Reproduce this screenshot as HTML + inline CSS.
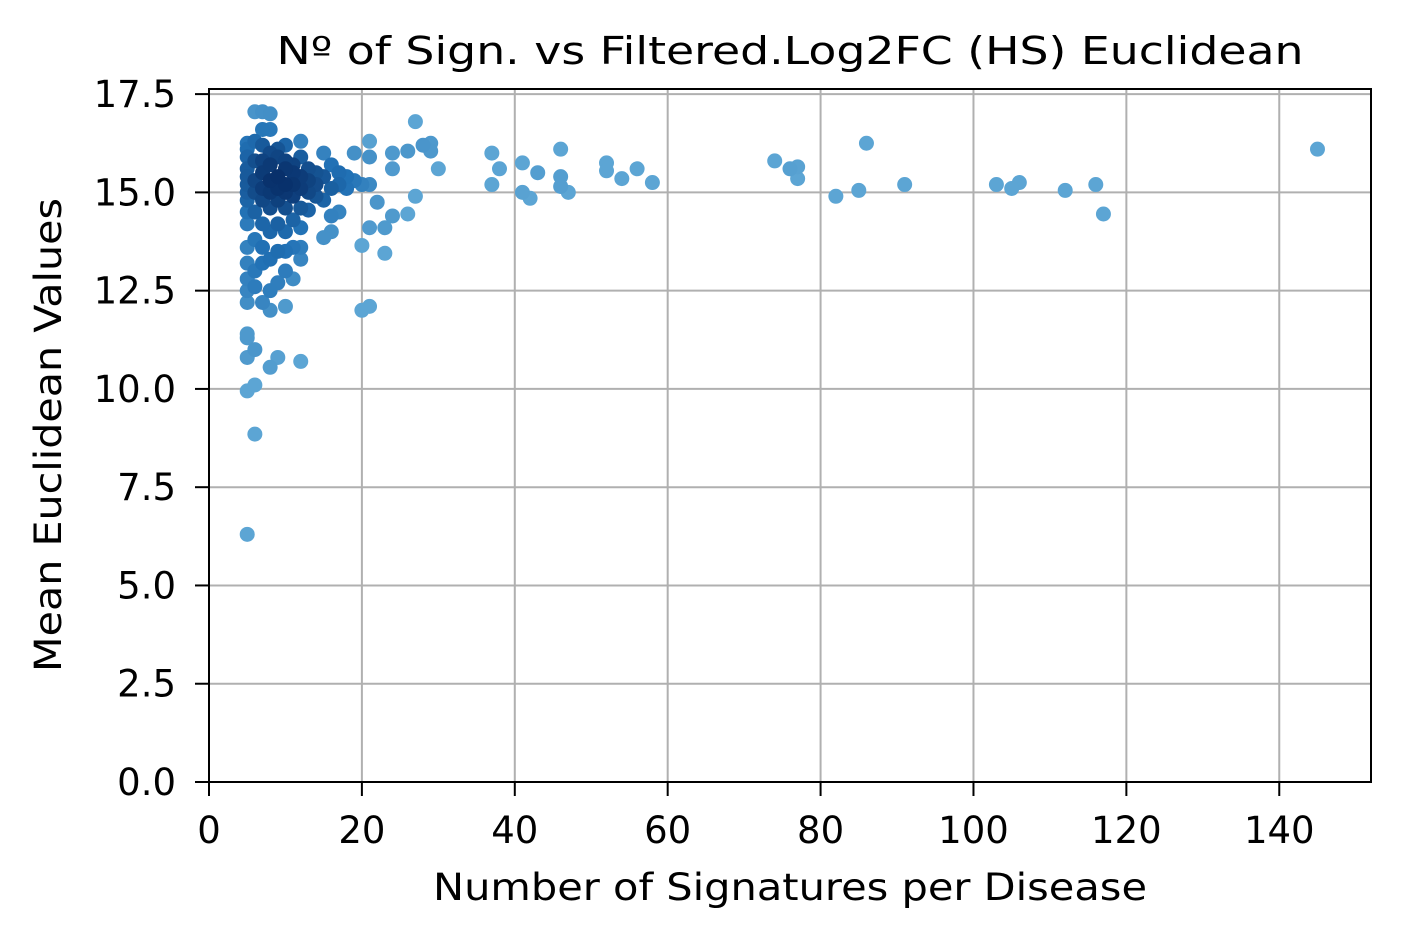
<!DOCTYPE html>
<html><head><meta charset="utf-8"><style>
html,body{margin:0;padding:0;background:#fff;}
svg{display:block;font-family:"DejaVu Sans","Liberation Sans",sans-serif;}
</style></head><body>
<svg id="chart" width="1401" height="938">
<rect x="0" y="0" width="1401" height="938" fill="#fff"/>
<g id="grid"></g>
<g id="pts"></g>
<rect x="209" y="89" width="1162" height="693" fill="none" stroke="#000" stroke-width="2"/>
<g id="ticks"></g>
<text x="790" y="64" font-size="38" text-anchor="middle" textLength="1027" lengthAdjust="spacingAndGlyphs">Nº of Sign. vs Filtered.Log2FC (HS) Euclidean</text>
<text x="790" y="900" font-size="37" text-anchor="middle" textLength="714" lengthAdjust="spacingAndGlyphs">Number of Signatures per Disease</text>
<text transform="translate(61,435) rotate(-90)" font-size="37" text-anchor="middle" textLength="474" lengthAdjust="spacingAndGlyphs">Mean Euclidean Values</text>
</svg>
<script>
const xTicks=[0,20,40,60,80,100,120,140];
const yTicks=[0,2.5,5,7.5,10,12.5,15,17.5];
const xs=[5,5,5,5,5,5,5,5,5,5,5,5,5,5,5,5,5,5,5,5,6,6,6,6,6,6,6,6,6,6,6,6,7,7,7,7,7,7,7,7,7,7,7,8,8,8,8,8,8,8,8,8,8,8,8,9,9,9,9,9,9,9,9,9,10,10,10,10,10,10,10,10,10,10,11,11,11,11,11,11,11,12,12,12,12,12,12,12,12,12,13,13,13,13,14,14,14,15,15,15,15,16,16,16,16,17,17,17,18,18,19,19,20,20,20,21,21,21,21,21,22,23,23,24,24,24,26,26,27,27,28,29,29,30,37,37,38,41,41,42,43,46,46,46,47,52,52,54,56,58,74,76,77,77,82,85,86,91,103,105,106,112,116,117,145];
const ys=[6.3,9.95,10.8,11.4,12.2,12.5,12.8,13.2,13.6,14.2,14.5,14.8,15.0,15.2,15.4,15.6,15.9,16.1,16.25,11.3,8.85,10.1,11.0,12.6,13.0,13.8,14.5,15.0,15.3,15.8,16.3,17.05,12.2,13.2,13.6,14.2,14.8,15.1,15.5,15.8,16.2,16.6,17.05,10.55,12.0,12.5,13.3,14.0,14.6,15.0,15.3,15.7,16.0,16.6,17.0,10.8,13.5,14.2,14.8,15.1,15.4,15.9,16.1,12.7,12.1,13.0,13.5,14.0,14.6,15.0,15.2,15.6,16.2,15.8,12.8,13.6,14.3,14.9,15.2,15.5,15.7,10.7,13.3,13.6,14.1,14.6,15.1,15.4,15.9,16.3,14.55,15.0,15.3,15.6,14.9,15.2,15.5,13.85,14.8,15.4,16.0,14.0,14.4,15.1,15.7,14.5,15.2,15.5,15.1,15.4,15.3,16.0,12.0,13.65,15.2,12.1,14.1,15.2,15.9,16.3,14.75,13.45,14.1,14.4,15.6,16.0,14.45,16.05,14.9,16.8,16.2,16.05,16.25,15.6,15.2,16.0,15.6,15.0,15.75,14.85,15.5,15.15,15.4,16.1,15.0,15.75,15.55,15.35,15.6,15.25,15.8,15.6,15.35,15.65,14.9,15.05,16.25,15.2,15.2,15.1,15.25,15.05,15.2,14.45,16.1];
const X0=209,X1=1371,Y0=782,Y1=89;
const xS=v=>X0+v*(X1-X0)/152, yS=v=>Y0-v*(Y0-Y1)/17.63;
const NS="http://www.w3.org/2000/svg";
const g=document.getElementById('grid'),t=document.getElementById('ticks'),p=document.getElementById('pts');
function mk(tag,a,par){const e=document.createElementNS(NS,tag);for(const k in a)e.setAttribute(k,a[k]);par.appendChild(e);return e;}
xTicks.forEach(v=>{const x=xS(v);
 const l=mk('line',{x1:x,x2:x,y1:Y1,y2:Y0,stroke:'#b0b0b0','stroke-width':2},g);
 
 
 const k=mk('line',{x1:x,x2:x,y1:Y0,y2:Y0+14,stroke:'#000','stroke-width':2},t);
 
 
 const s=mk('text',{x:x,y:843,'font-size':37,'text-anchor':'middle'},t);s.textContent=v;
 
 });
yTicks.forEach(v=>{const y=yS(v);
 const l=mk('line',{x1:X0,x2:X1,y1:y,y2:y,stroke:'#b0b0b0','stroke-width':2},g);
 
 
 const k=mk('line',{x1:X0-14,x2:X0,y1:y,y2:y,stroke:'#000','stroke-width':2},t);
 
 
 const s=mk('text',{x:176,y:y+13,'font-size':37,'text-anchor':'end'},t);s.textContent=v.toFixed(1);
 
 });
const pts=xs.map((x,i)=>({x:xS(x),y:yS(ys[i])}));
const dens=pts.map(a=>pts.reduce((s,b)=>s+Math.exp(-((a.x-b.x)**2+(a.y-b.y)**2)/(2*18*18)),0));
const dmax=Math.max(...dens);
const cL=[92,165,212],cM=[33,113,181],cD=[8,48,107];
const order=pts.map((_,i)=>i).sort((a,b)=>dens[a]-dens[b]);
order.forEach(i=>{let f=(dens[i]-3)/(dmax-3);f=Math.max(0,Math.min(1,f));f=Math.pow(f,0.8);
 const c=f<0.5?cL.map((v,j)=>Math.round(v+(cM[j]-v)*f*2)):cM.map((v,j)=>Math.round(v+(cD[j]-v)*(f-0.5)*2));
 const e=mk('circle',{cx:pts[i].x,cy:pts[i].y,r:7.5,fill:`rgb(${c})`},p);
 
 });
</script>
</body></html>
